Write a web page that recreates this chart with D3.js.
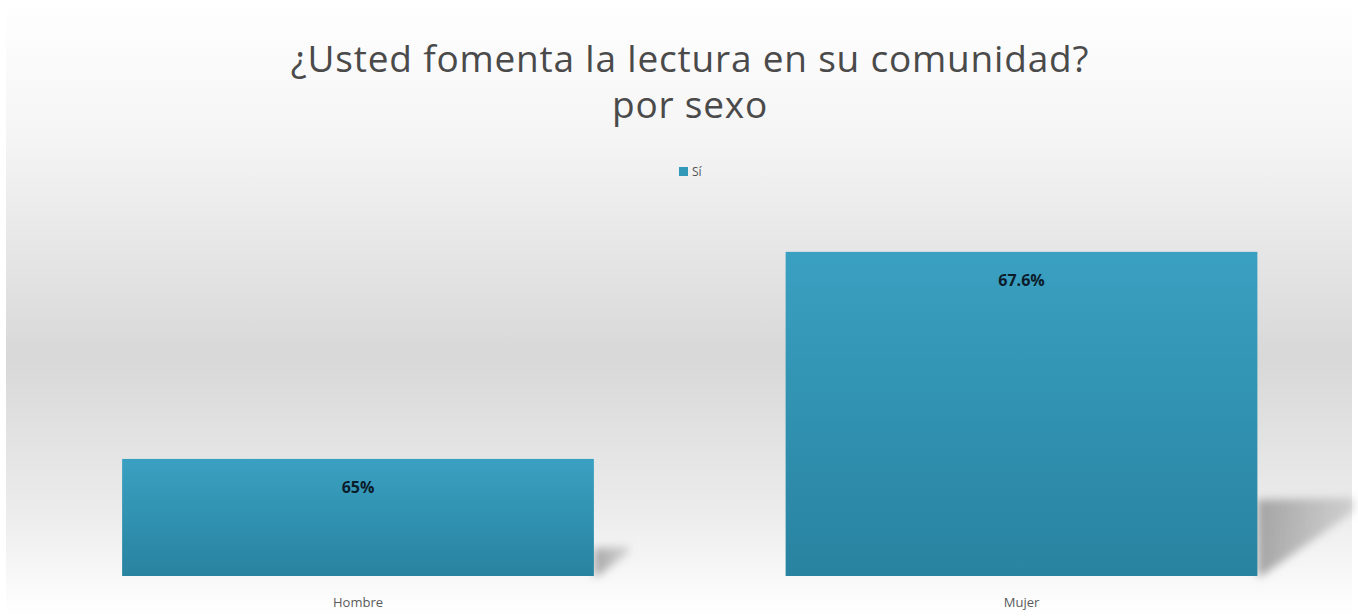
<!DOCTYPE html>
<html><head><meta charset="utf-8">
<script src="https://cdn.jsdelivr.net/npm/d3@7/dist/d3.min.js"></script>
<style>body{margin:0;background:#fff}svg{display:block}</style>
</head><body><svg id="c" width="1358" height="616"></svg>
<script>
const categories = ["Hombre", "Mujer"];
const values = [65, 67.6];
const labels = ["65%", "67.6%"];
const seriesName = "Sí";
const titleLines = ["¿Usted fomenta la lectura en su comunidad?", "por sexo"];

const W = 1358, H = 616;
const svg = d3.select("#c");
const defs = svg.append("defs");

const bg = defs.append("linearGradient").attr("id","bg").attr("x1",0).attr("y1",0).attr("x2",0).attr("y2",1);
bg.append("stop").attr("offset","0%").attr("stop-color","#ffffff");
bg.append("stop").attr("offset","22%").attr("stop-color","#f5f5f5");
bg.append("stop").attr("offset","58%").attr("stop-color","#d8d8d8");
bg.append("stop").attr("offset","82%").attr("stop-color","#ebebeb");
bg.append("stop").attr("offset","100%").attr("stop-color","#ffffff");

const bar = defs.append("linearGradient").attr("id","bar").attr("x1",0).attr("y1",0).attr("x2",0).attr("y2",1);
bar.append("stop").attr("offset","0%").attr("stop-color","#3aa0c1");
bar.append("stop").attr("offset","100%").attr("stop-color","#2883a0");

const sh = defs.append("linearGradient").attr("id","sh").attr("x1",0).attr("y1",0).attr("x2",1).attr("y2",0);
sh.append("stop").attr("offset","0%").attr("stop-color","#8a8a8a").attr("stop-opacity",0.75);
sh.append("stop").attr("offset","100%").attr("stop-color","#9a9a9a").attr("stop-opacity",0.35);
defs.append("filter").attr("id","blur").attr("x","-30%").attr("y","-30%").attr("width","160%").attr("height","160%")
  .append("feGaussianBlur").attr("stdDeviation",4);

svg.append("rect").attr("x",6).attr("y",0).attr("width",W-12).attr("height",H).attr("fill","url(#bg)");

const x = d3.scaleBand().domain(categories).range([26.25, 1353.25]).paddingInner(0.289).paddingOuter(0.1445);
const y = d3.scaleLinear().domain([63.53, 68]).range([576, 220]);

// shadows
svg.selectAll("path.sh").data(categories).join("path").attr("class","sh")
  .attr("d",(c,i)=>{
    const xr = x(c)+x.bandwidth();
    const y0 = y.range()[0];
    const h = (y0 - y(values[i]))*0.235;
    const dx = h*1.27;
    return `M${xr},${y0-h} L${xr+dx},${y0-h-2} L${xr+dx},${y0-h+h*0.15} L${xr+4},${y0} L${xr},${y0} Z`;
  })
  .attr("fill","url(#sh)").attr("filter","url(#blur)");

svg.selectAll("rect.bar").data(categories).join("rect").attr("class","bar")
  .attr("x",c=>x(c)).attr("width",x.bandwidth())
  .attr("y",(c,i)=>y(values[i])).attr("height",(c,i)=>y.range()[0]-y(values[i]))
  .attr("fill","url(#bar)");

svg.selectAll("text.val").data(categories).join("text").attr("class","val")
  .attr("x",c=>x(c)+x.bandwidth()/2).attr("y",(c,i)=>y(values[i])+34)
  .attr("text-anchor","middle").attr("font-family","'Open Sans',sans-serif").attr("font-weight","bold")
  .attr("font-size",16).attr("fill","#0c1c2a").text((c,i)=>labels[i]);

const xa = svg.append("g").attr("transform",`translate(0,${y.range()[0]})`).call(d3.axisBottom(x).tickSize(0).tickPadding(22));
xa.select(".domain").remove();
xa.selectAll("text").attr("font-family","'Open Sans',sans-serif").attr("font-size",13).attr("fill","#5a5a5a");

svg.selectAll("text.title").data(titleLines).join("text").attr("class","title")
  .attr("x",690).attr("y",(d,i)=>72+i*46).attr("text-anchor","middle")
  .attr("font-family","'Open Sans',sans-serif").attr("font-size",37).attr("letter-spacing",0.8)
  .attr("fill","#4a4a4a").text(d=>d);

const lg = svg.append("g").attr("transform","translate(679,167)");
lg.append("rect").attr("width",9).attr("height",9).attr("fill","#3399b8");
lg.append("text").attr("x",13).attr("y",9).attr("font-family","'Open Sans',sans-serif").attr("font-size",12).attr("fill","#555").text(seriesName);
</script></body></html>
